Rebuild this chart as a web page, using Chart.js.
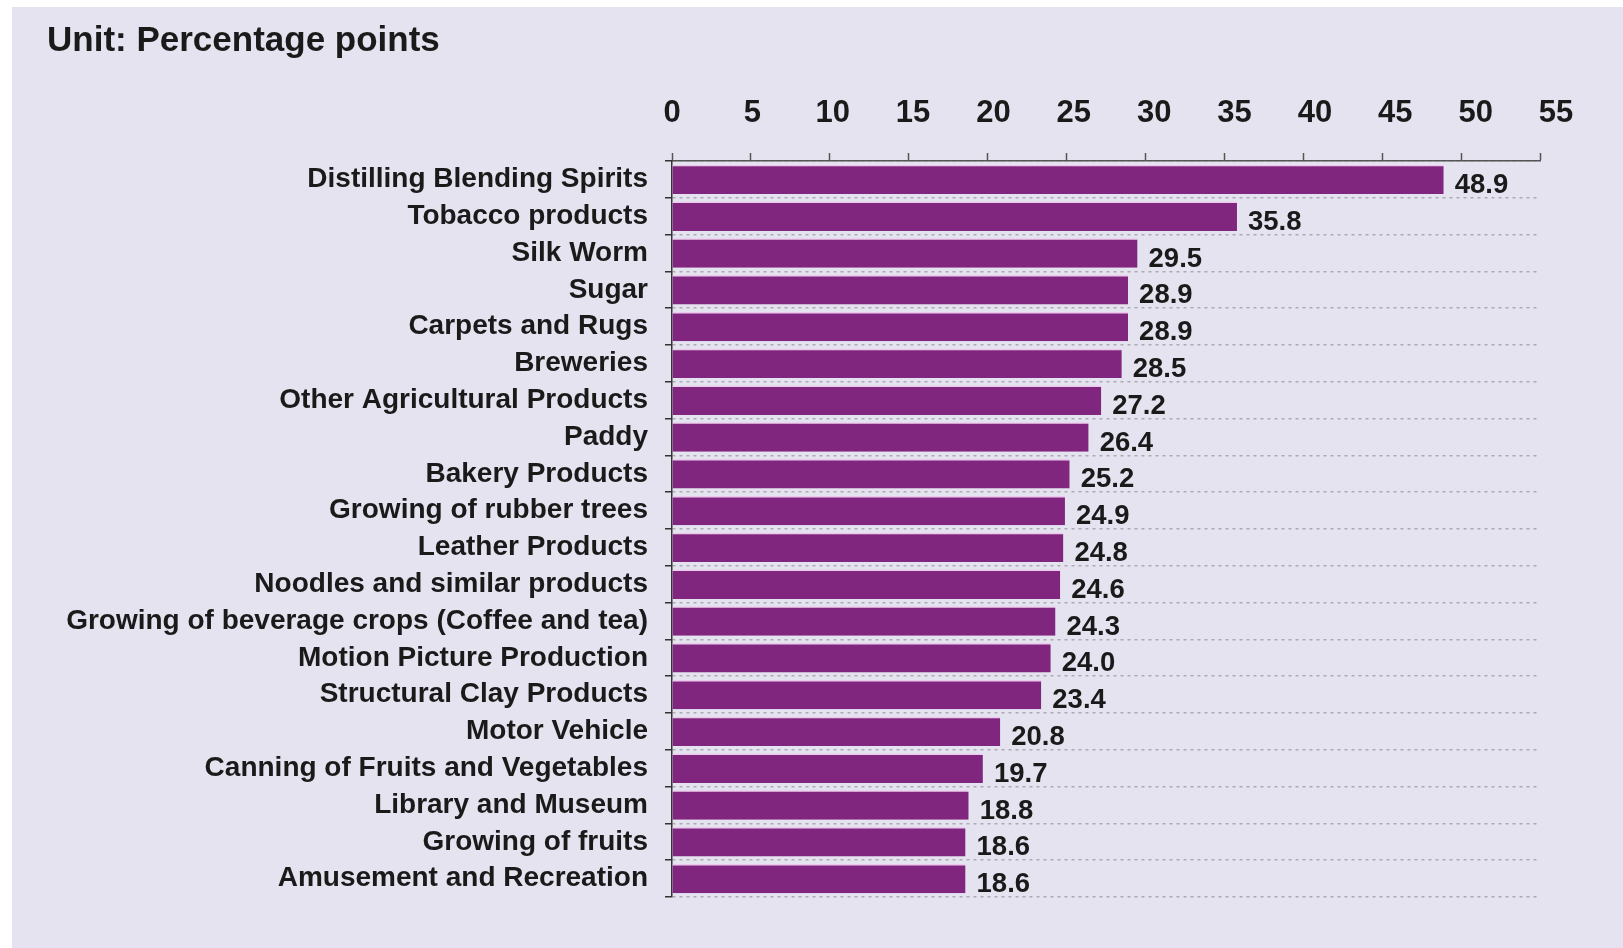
<!DOCTYPE html>
<html>
<head>
<meta charset="utf-8">
<script src="https://cdn.jsdelivr.net/npm/chart.js@4/dist/chart.umd.min.js"></script>
<style>
  html, body { margin: 0; padding: 0; background: #ffffff; }
  #wrap { width: 1623px; height: 948px; position: relative; }
</style>
</head>
<body>
<div id="wrap"><canvas id="c" width="1623" height="948"></canvas></div>
<script>
const categories = [
  "Distilling Blending Spirits",
  "Tobacco products",
  "Silk Worm",
  "Sugar",
  "Carpets and Rugs",
  "Breweries",
  "Other Agricultural Products",
  "Paddy",
  "Bakery Products",
  "Growing of rubber trees",
  "Leather Products",
  "Noodles and similar products",
  "Growing of beverage crops (Coffee and tea)",
  "Motion Picture Production",
  "Structural Clay Products",
  "Motor Vehicle",
  "Canning of Fruits and Vegetables",
  "Library and Museum",
  "Growing of fruits",
  "Amusement and Recreation"
];
const values = [48.9, 35.8, 29.5, 28.9, 28.9, 28.5, 27.2, 26.4, 25.2, 24.9, 24.8, 24.6, 24.3, 24.0, 23.4, 20.8, 19.7, 18.8, 18.6, 18.6];
const xTicks = [0, 5, 10, 15, 20, 25, 30, 35, 40, 45, 50, 55];
const titleText = "Unit: Percentage points";

const FONT = "'Liberation Sans', Arial, sans-serif";
const TEXT = "#1a1a1a";

const panelPlugin = {
  id: 'panel',
  beforeDraw(chart) {
    const ctx = chart.ctx;
    ctx.save();
    ctx.fillStyle = '#ffffff';
    ctx.fillRect(0, 0, chart.width, chart.height);
    ctx.fillStyle = '#e4e3ef';
    ctx.fillRect(12, 7, chart.width - 12, chart.height - 7);
    ctx.restore();
  }
};

// x tick labels: in the original they drift slightly right of their tick marks
const xTickLabels = {
  id: 'xTickLabels',
  afterDraw(chart) {
    const scale = chart.scales.x;
    const ctx = chart.ctx;
    ctx.save();
    ctx.font = "bold 31px " + FONT;
    ctx.fillStyle = TEXT;
    ctx.textAlign = 'center';
    ctx.textBaseline = 'middle';
    const y = scale.bottom - 8 - 21 - 31 * 1.2 / 2;
    xTicks.forEach(v => {
      const x = scale.getPixelForValue(v) + (v / 55) * 16;
      ctx.fillText(String(v), x, y);
    });
    ctx.restore();
  }
};

const valueLabels = {
  id: 'valueLabels',
  afterDatasetsDraw(chart) {
    const ctx = chart.ctx;
    const meta = chart.getDatasetMeta(0);
    ctx.save();
    ctx.font = "bold 27.5px " + FONT;
    ctx.fillStyle = TEXT;
    ctx.textAlign = 'left';
    ctx.textBaseline = 'middle';
    meta.data.forEach((bar, i) => {
      const v = chart.data.datasets[0].data[i];
      ctx.fillText(v.toFixed(1), bar.x + 11, bar.y + 6);
    });
    ctx.restore();
  }
};

new Chart(document.getElementById('c'), {
  type: 'bar',
  data: {
    labels: categories,
    datasets: [{
      data: values,
      backgroundColor: '#80267e',
      borderColor: '#f0c8ee',
      borderWidth: {top: 1.5, right: 0, bottom: 0, left: 0},
      borderSkipped: false,
      barPercentage: 0.8,
      categoryPercentage: 1.0
    }]
  },
  options: {
    indexAxis: 'y',
    responsive: false,
    animation: false,
    devicePixelRatio: 1,
    layout: { padding: { left: 47, right: 83, top: 0, bottom: 51 } },
    plugins: {
      legend: { display: false },
      tooltip: { enabled: false },
      title: {
        display: true,
        text: titleText,
        align: 'start',
        color: TEXT,
        font: { family: FONT, size: 35, weight: 'bold', lineHeight: 1.2 },
        padding: { top: 20, bottom: 8 }
      }
    },
    scales: {
      x: {
        position: 'top',
        min: 0,
        max: 55,
        afterBuildTicks(scale) { scale.ticks = xTicks.map(v => ({ value: v })); },
        afterFit(scale) { scale.height = 161 - (20 + 42 + 8); },
        ticks: {
          display: false
        },
        grid: {
          display: true,
          drawOnChartArea: false,
          drawTicks: true,
          tickLength: 8,
          tickColor: '#555555',
          tickWidth: 1.5
        },
        border: { display: true, color: '#555555', width: 1.5 }
      },
      y: {
        afterFit(scale) { scale.width = 672 - 47; },
        ticks: {
          color: TEXT,
          font: { family: FONT, size: 28, weight: 'bold' },
          padding: 17,
          autoSkip: false
        },
        grid: {
          display: true,
          offset: true,
          drawOnChartArea: true,
          drawTicks: true,
          tickLength: 7,
          color: '#aaaab4',
          lineWidth: 1.5,
          tickColor: '#333333',
          tickWidth: 1.5,
          tickBorderDash: []
        },
        border: { display: true, color: '#333333', width: 1.5, dash: [3, 4] }
      }
    }
  },
  plugins: [panelPlugin, valueLabels, xTickLabels]
});
</script>
</body>
</html>
